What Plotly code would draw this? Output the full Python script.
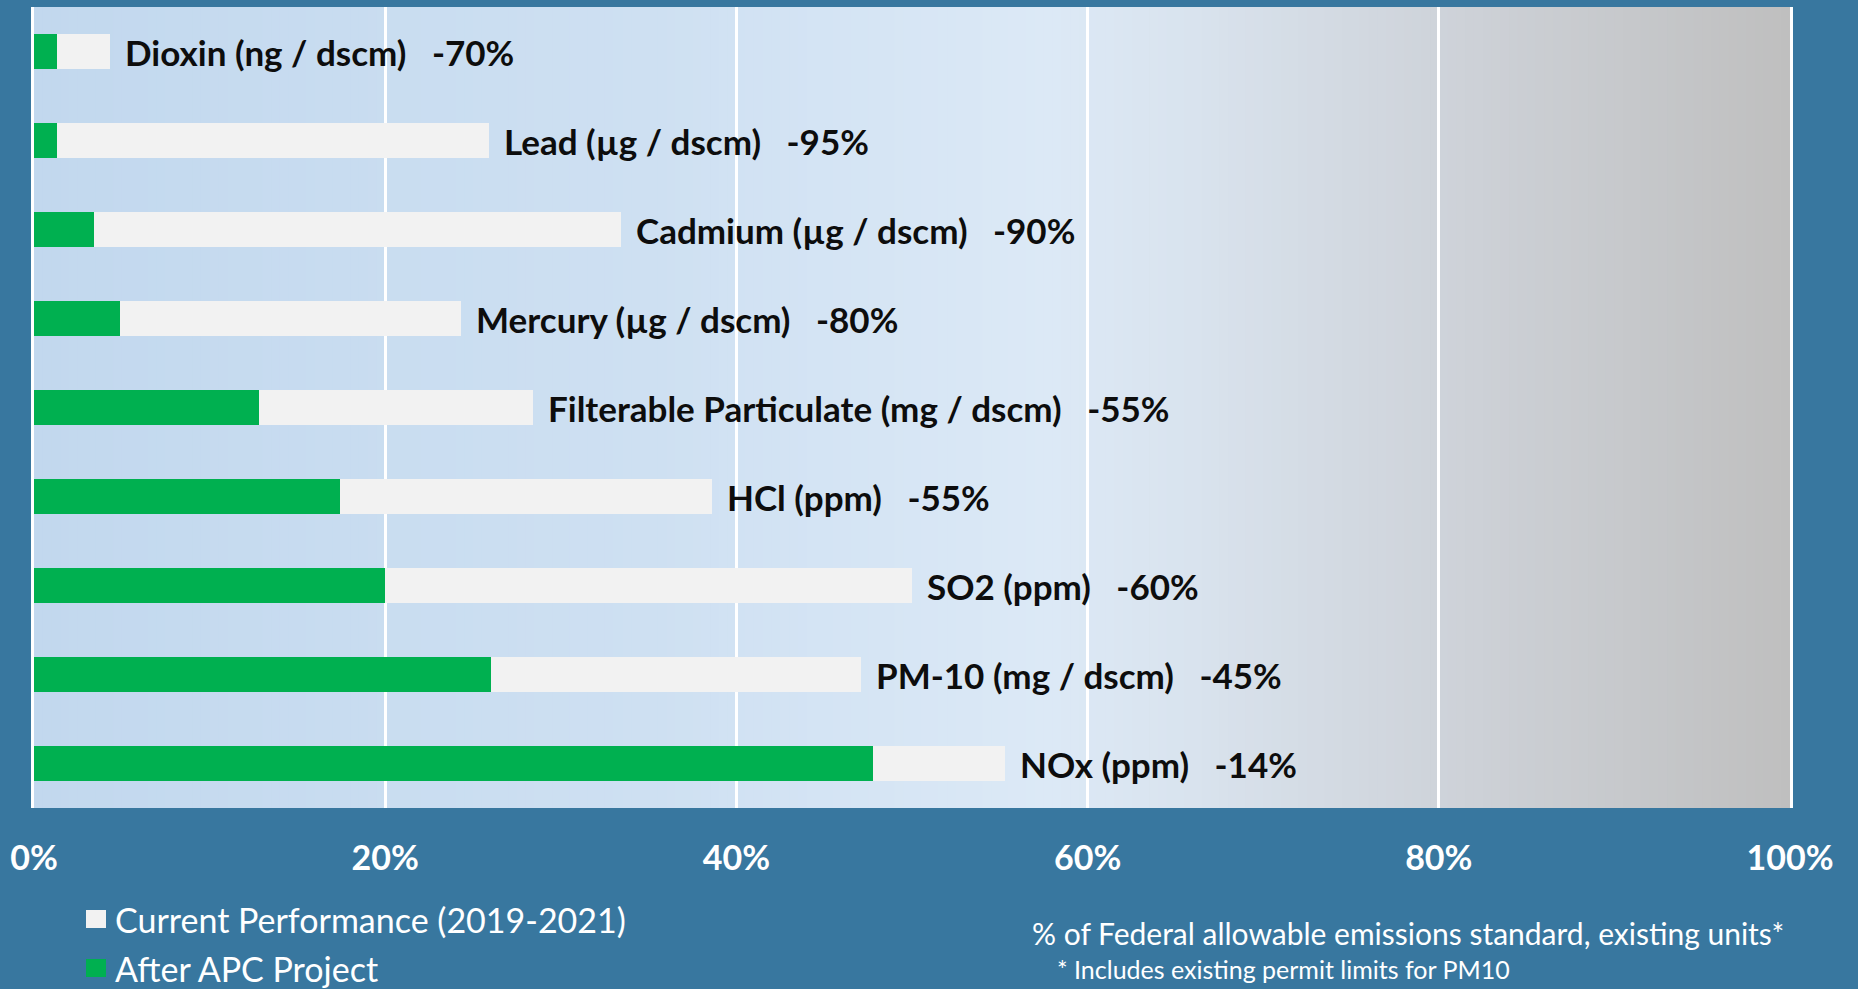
import plotly.graph_objects as go

# ---- data ----
categories = ["Dioxin (ng / dscm)", "Lead (µg / dscm)", "Cadmium (µg / dscm)",
              "Mercury (µg / dscm)", "Filterable Particulate (mg / dscm)", "HCl (ppm)",
              "SO2 (ppm)", "PM-10 (mg / dscm)", "NOx (ppm)"]
current_perf = [4.3, 25.9, 33.4, 24.3, 28.4, 38.6, 50.0, 47.1, 55.3]
after_apc = [1.3, 1.3, 3.4, 4.9, 12.8, 17.4, 20.0, 26.0, 47.8]
changes = ["-70%", "-95%", "-90%", "-80%", "-55%", "-55%", "-60%", "-45%", "-14%"]
tick_vals = [0, 20, 40, 60, 80, 100]
tick_text = ["0%", "20%", "40%", "60%", "80%", "100%"]

# ---- style ----
W, H = 1858, 989
ML, MR, MT, MB = 34, 68, 7, 181
PW, PH = W - ML - MR, H - MT - MB
FONT = "Lato"
PAPER = "#38779F"
GREEN = "#00B050"
WHITE = "#F2F2F2"

# background gradient stops (x in %, color)
grad_stops = [(0, (0xC2, 0xD8, 0xEE)), (35, (0xCE, 0xE0, 0xF2)), (58, (0xDC, 0xE9, 0xF6)),
              (66, (0xD9, 0xE3, 0xEE)), (82, (0xCD, 0xD1, 0xD7)), (100, (0xBF, 0xBF, 0xBF))]


def grad_color(x):
    for (x0, c0), (x1, c1) in zip(grad_stops[:-1], grad_stops[1:]):
        if x0 <= x <= x1:
            t = (x - x0) / (x1 - x0)
            return "rgb(%d,%d,%d)" % tuple(round(a + (b - a) * t) for a, b in zip(c0, c1))
    return "rgb(191,191,191)"


fig = go.Figure()
fig.add_trace(go.Bar(y=categories, x=current_perf, orientation="h", name="Current Performance (2019-2021)",
                     marker=dict(color=WHITE, line=dict(width=0)), width=0.4, showlegend=False))
fig.add_trace(go.Bar(y=categories, x=after_apc, orientation="h", name="After APC Project",
                     marker=dict(color=GREEN, line=dict(width=0)), width=0.4, showlegend=False))

shapes = []
N = 200
for i in range(N):
    x0 = 100 * i / N
    x1 = 100 * (i + 1) / N
    shapes.append(dict(type="rect", xref="x", yref="paper", x0=x0, x1=x1 + 0.05, y0=0, y1=1,
                       fillcolor=grad_color((x0 + x1) / 2), line=dict(width=0), layer="below"))


def px(xp):
    return (xp - ML) / PW


def py(yp):
    return (H - MB - yp) / PH


annotations = []
for cat, cur, chg in zip(categories, current_perf, changes):
    annotations.append(dict(x=cur, y=cat, xref="x", yref="y", xanchor="left", yanchor="middle",
                            xshift=13, showarrow=False,
                            text=cat + "\u00a0\u00a0\u00a0" + chg,
                            font=dict(family=FONT, size=35, color="#0D0D0D", weight=700)))

# legend (manual)
legend_items = [("Current Performance (2019-2021)", WHITE, 919), ("After APC Project", GREEN, 968)]
for label, col, yc in legend_items:
    shapes.append(dict(type="rect", xref="paper", yref="paper", x0=px(86), x1=px(106),
                       y0=py(yc + 9), y1=py(yc - 9), fillcolor=col, line=dict(width=0)))
    annotations.append(dict(x=px(113), y=py(yc), xref="paper", yref="paper", xanchor="left",
                            yanchor="middle", showarrow=False, text=label,
                            font=dict(family=FONT, size=34, color="white")))

annotations.append(dict(x=px(1030), y=py(933), xref="paper", yref="paper", xanchor="left",
                        yanchor="middle", showarrow=False,
                        text="% of Federal allowable emissions standard, existing units*",
                        font=dict(family=FONT, size=30, color="white")))
annotations.append(dict(x=px(1055), y=py(969), xref="paper", yref="paper", xanchor="left",
                        yanchor="middle", showarrow=False,
                        text="* Includes existing permit limits for PM10",
                        font=dict(family=FONT, size=25, color="white")))

fig.update_layout(
    width=W, height=H,
    margin=dict(l=ML, r=MR, t=MT, b=MB),
    paper_bgcolor=PAPER, plot_bgcolor="rgba(0,0,0,0)",
    barmode="overlay", bargap=0,
    showlegend=False,
    shapes=shapes, annotations=annotations,
    xaxis=dict(range=[0, 100], tickvals=tick_vals, ticktext=tick_text, showgrid=True,
               gridcolor="white", gridwidth=3, zeroline=False, showline=False, ticks="",
               tickfont=dict(family=FONT, size=34, color="white", weight=700),
               ticklabelstandoff=27, fixedrange=True),
    yaxis=dict(autorange=False, range=[8.5, -0.5], showticklabels=False, showgrid=False,
               zeroline=False, showline=True, linecolor="white", linewidth=3, mirror=True,
               ticks="", categoryorder="array", categoryarray=categories),
)

fig.write_html("out.html", config={"displayModeBar": False},
               post_script="document.body.style.margin='0';document.body.style.background='#38779F';"
                           "document.documentElement.style.background='#38779F';")
